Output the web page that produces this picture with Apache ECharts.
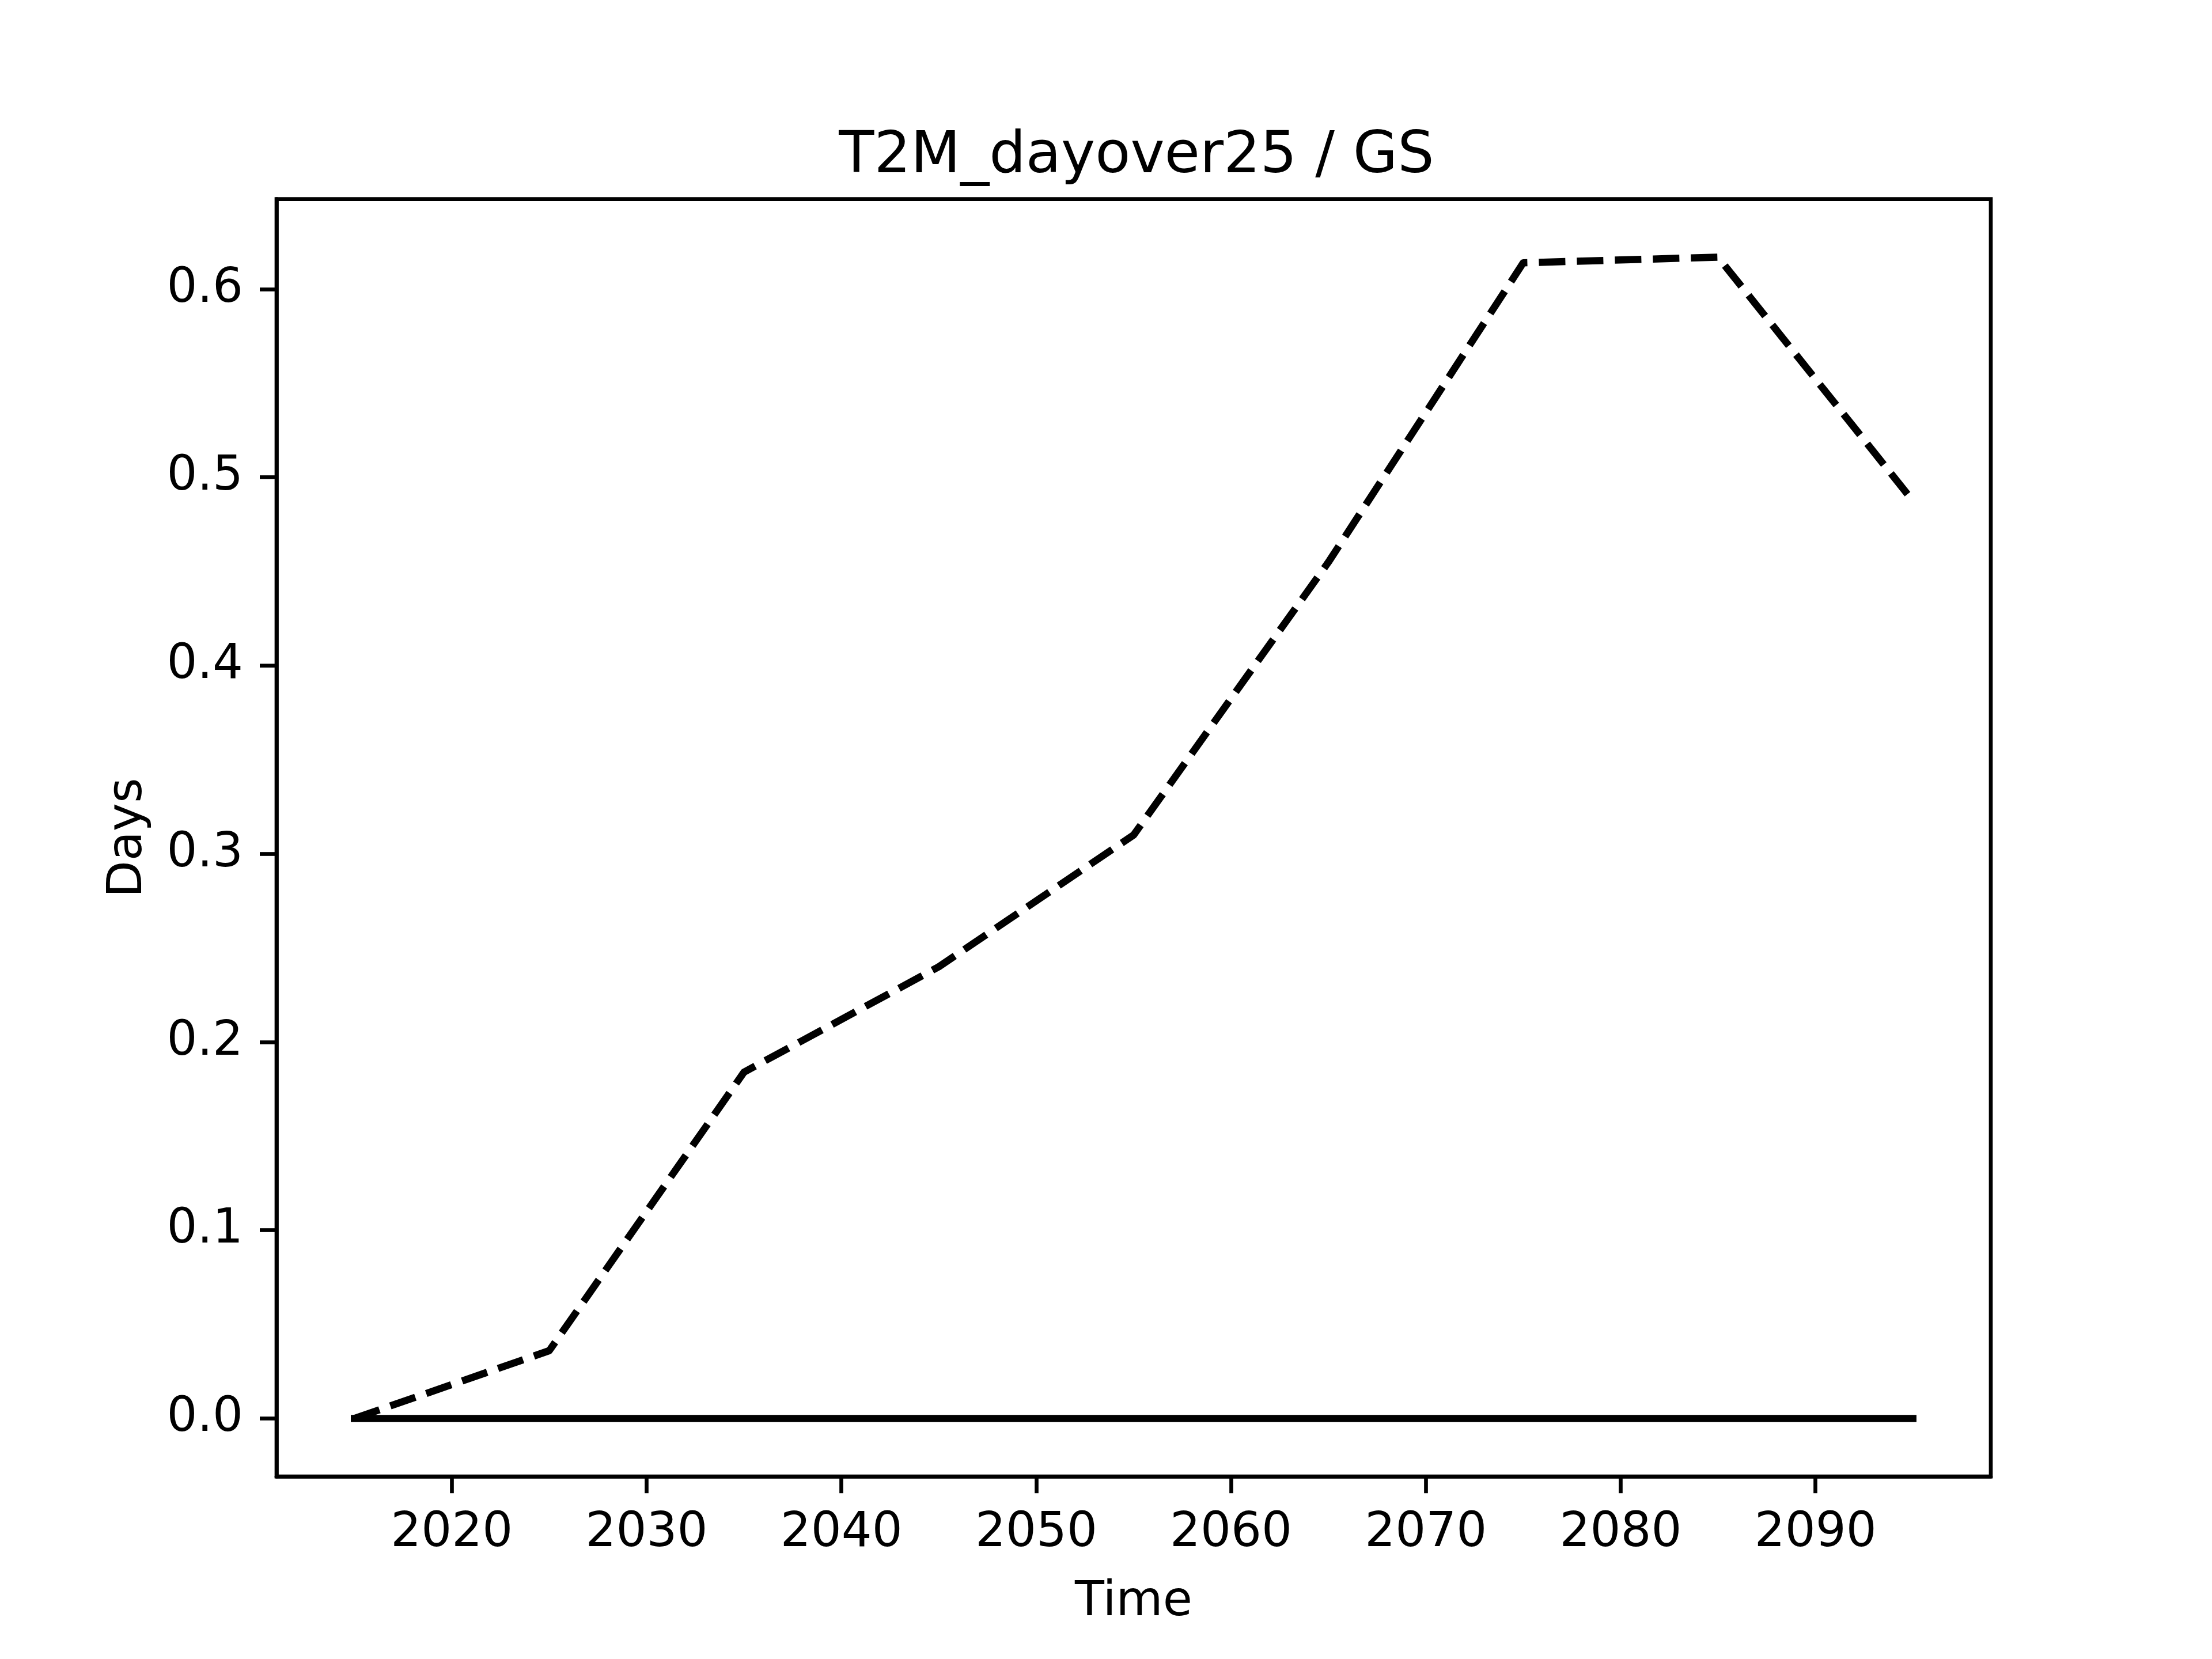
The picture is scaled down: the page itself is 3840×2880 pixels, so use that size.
<!DOCTYPE html>
<html>
<head>
<meta charset="utf-8">
<script src="https://cdn.jsdelivr.net/npm/echarts@6/dist/echarts.min.js"></script>
<style>
html,body{margin:0;padding:0;background:#fff;}
#chart{width:3840px;height:2880px;}
</style>
</head>
<body>
<div id="chart"></div>
<script>
const years = [2015, 2025, 2035, 2045, 2055, 2065, 2075, 2085, 2095];
const dashedValues = [0.0, 0.036, 0.184, 0.240, 0.31, 0.455, 0.614, 0.617, 0.4875];
const solidValues = [0, 0, 0, 0, 0, 0, 0, 0, 0];
const xTicks = [2020, 2030, 2040, 2050, 2060, 2070, 2080, 2090];
const yTicks = [0.0, 0.1, 0.2, 0.3, 0.4, 0.5, 0.6];
const titleText = 'T2M_dayover25 / GS';
const xName = 'Time';
const yName = 'Days';

const FONT = 'DejaVu Sans';
const chart = echarts.init(document.getElementById('chart'), null, {width:3840, height:2880, renderer:'canvas'});

const yMaxData = Math.max(...dashedValues);
const yMinData = 0;
const yPad = (yMaxData - yMinData) * 0.05;
const xPad = (years[years.length-1] - years[0]) * 0.05;

const option = {
  animation: false,
  backgroundColor: '#ffffff',
  title: {
    text: titleText,
    left: 1968,
    top: 218,
    textAlign: 'center',
    textStyle: {fontFamily: FONT, fontSize: 100, fontWeight: 'normal', color: '#000'}
  },
  grid: {
    left: 480, right: 384, top: 345.6, bottom: 316.8,
    show: true, borderColor: '#000', borderWidth: 6.67, backgroundColor: 'transparent',
    containLabel: false
  },
  xAxis: {
    type: 'value',
    min: years[0] - xPad,
    max: years[years.length-1] + xPad,
    name: xName,
    nameLocation: 'middle',
    nameGap: 178,
    nameTextStyle: {fontFamily: FONT, fontSize: 83.3, color: '#000'},
    axisLine: {show: true, onZero: false, lineStyle: {color: '#000', width: 6.67}},
    axisTick: {show: true, length: 29, lineStyle: {color: '#000', width: 6.67}, customValues: xTicks},
    axisLabel: {show: true, margin: 58, fontFamily: FONT, fontSize: 83.3, color: '#000', customValues: xTicks,
      formatter: v => String(Math.round(v))},
    splitLine: {show: false}
  },
  yAxis: {
    type: 'value',
    min: yMinData - yPad,
    max: yMaxData + yPad,
    name: yName,
    nameLocation: 'middle',
    nameRotate: 90,
    nameGap: 215,
    nameTextStyle: {fontFamily: FONT, fontSize: 83.3, color: '#000'},
    axisLine: {show: true, onZero: false, lineStyle: {color: '#000', width: 6.67}},
    axisTick: {show: true, length: 29, lineStyle: {color: '#000', width: 6.67}, customValues: yTicks},
    axisLabel: {show: true, margin: 58, fontFamily: FONT, fontSize: 83.3, color: '#000', customValues: yTicks,
      formatter: v => v.toFixed(1)},
    splitLine: {show: false}
  },
  series: [
    {
      type: 'line',
      data: years.map((y, i) => [y, dashedValues[i]]),
      symbol: 'none',
      lineStyle: {color: '#000', width: 12.5, type: [46, 20], cap: 'butt', join: 'round'},
      z: 2
    },
    {
      type: 'line',
      data: years.map((y, i) => [y, solidValues[i]]),
      symbol: 'none',
      lineStyle: {color: '#000', width: 12.5, type: 'solid', cap: 'square', join: 'round'},
      z: 3
    }
  ]
};
chart.setOption(option);
</script>
</body>
</html>
